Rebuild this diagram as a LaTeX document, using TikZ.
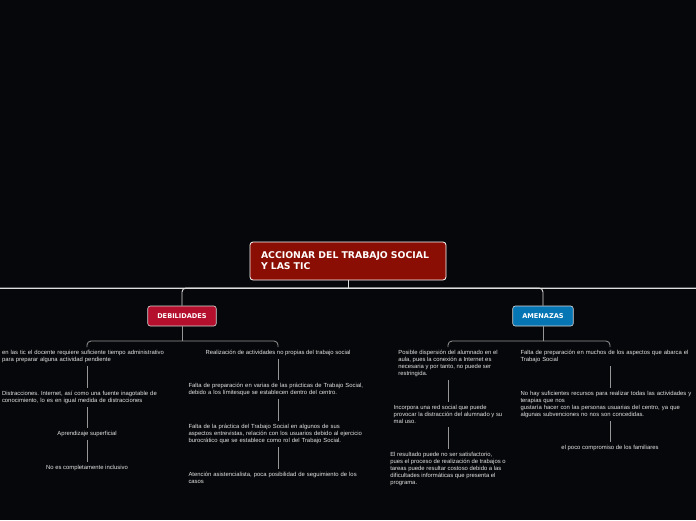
\documentclass[tikz,border=0pt]{standalone}
\usepackage{fontspec}
\setmainfont{Liberation Sans}
\newfontfamily\headfont{DejaVu Sans}
\usepackage{xcolor}
\definecolor{canvasDark}{RGB}{6,7,10}
\definecolor{rootRed}{RGB}{139,14,4}
\definecolor{weakRed}{RGB}{180,15,45}
\definecolor{threatBlue}{RGB}{6,117,179}
\definecolor{busLine}{RGB}{222,222,222}
\definecolor{twigLine}{RGB}{150,150,150}
\definecolor{leafText}{RGB}{228,228,228}
\usetikzlibrary{positioning}
\frenchspacing

\tikzset{
  rootbox/.style={draw=white, line width=0.8pt, fill=rootRed, rounded corners=3pt,
    text=white, font=\headfont\bfseries\fontsize{9.3}{11}\selectfont,
    align=left, text width=174pt, inner xsep=11pt, minimum height=38pt},
  topicbox/.style={draw=white!85!black, line width=0.6pt, rounded corners=2.5pt,
    text=white, font=\headfont\bfseries\fontsize{6.6}{8}\selectfont,
    minimum height=20pt, inner xsep=9.5pt},
  leaf/.style={text=leafText, font=\fontsize{5.9}{7.1}\selectfont,
    align=left, inner sep=3pt, anchor=north},
  wideleaf/.style={leaf, text width=179pt},
  bus/.style={busLine, line width=0.9pt},
  twig/.style={twigLine, line width=0.8pt, rounded corners=4pt}
}

\begin{document}
\begin{tikzpicture}[x=1pt, y=-1pt]
  \fill[canvasDark] (0,0) rectangle (696,520);
  \clip (0,0) rectangle (696,520);

  % main topic and the two branches
  \node[rootbox] (root) at (348,261) {ACCIONAR DEL TRABAJO SOCIAL\\Y LAS TIC};
  \node[topicbox, fill=weakRed] (weak) at (182,316) {DEBILIDADES};
  \node[topicbox, fill=threatBlue] (threat) at (543,316) {AMENAZAS};

  \coordinate (busL) at (0,288);
  \coordinate (busR) at (696,288);
  \draw[bus] (busL) -- (busR);
  \draw[bus] (root.south) -- (root.south |- busL);
  \draw[bus, rounded corners=4pt] (busR) -| (weak.north);
  \draw[bus, rounded corners=4pt] (busL) -| (threat.north);

  % debilidades
  \node[wideleaf, text width=170pt] (w11) at (87,347) {en las tic el docente requiere suficiente tiempo administrativo\\para preparar alguna actividad pendiente};
  \node[wideleaf, text width=170pt] (w12) at (87,388) {Distracciones. Internet, así como una fuente inagotable de\\conocimiento, lo es en igual medida de distracciones};
  \node[leaf] (w13) at (87,428) {Aprendizaje superficial};
  \node[leaf] (w14) at (87,462) {No es completamente inclusivo};

  \node[leaf] (w21) at (278,347) {Realización de actividades no propias del trabajo social};
  \node[wideleaf] (w22) at (278,380) {Falta de preparación en varias de las prácticas de Trabajo Social,\\debido a los límitesque se establecen dentro del centro.};
  \node[wideleaf] (w23) at (278,421) {Falta de la práctica del Trabajo Social en algunos de sus\\aspectos entrevistas, relación con los usuarios debido al ejercicio\\burocrático que se establece como rol del Trabajo Social.};
  \node[wideleaf] (w24) at (278,469) {Atención asistencialista, poca posibilidad de seguimiento de los\\casos};

  \coordinate (weakFork) at (182,341);
  \draw[twig] (weak.south) -- (weakFork);
  \draw[twig] (w11.north) |- (weakFork) -| (w21.north);
  \draw[twig] (w11) -- (w12);
  \draw[twig] (w12) -- (w13);
  \draw[twig] (w13) -- (w14);
  \draw[twig] (w21) -- (w22);
  \draw[twig] (w22) -- (w23);
  \draw[twig] (w23) -- (w24);

  % amenazas
  \node[leaf] (t11) at (448,347) {Posible dispersión del alumnado en el\\aula, pues la conexión a Internet es\\necesaria y por tanto, no puede ser\\restringida.};
  \node[leaf] (t12) at (448,402) {Incorpora una red social que puede\\provocar la distracción del alumnado y su\\mal uso.};
  \node[leaf] (t13) at (448,449) {El resultado puede no ser satisfactorio,\\pues el proceso de realización de trabajos o\\tareas puede resultar costoso debido a las\\dificultades informáticas que presenta el\\programa.};

  \node[wideleaf] (t21) at (610,347) {Falta de preparación en muchos de los aspectos que abarca el\\Trabajo Social};
  \node[wideleaf] (t22) at (610,388) {No hay suficientes recursos para realizar todas las actividades y\\terapias que nos\\ gustaría hacer con las personas usuarias del centro, ya que\\algunas subvenciones no nos son concedidas.};
  \node[leaf] (t23) at (610,442) {el poco compromiso de los familiares};

  \coordinate (threatFork) at (543,341);
  \draw[twig] (threat.south) -- (threatFork);
  \draw[twig] (t11.north) |- (threatFork) -| (t21.north);
  \draw[twig] (t11) -- (t12);
  \draw[twig] (t12) -- (t13);
  \draw[twig] (t21) -- (t22);
  \draw[twig] (t22) -- (t23);
\end{tikzpicture}
\end{document}
